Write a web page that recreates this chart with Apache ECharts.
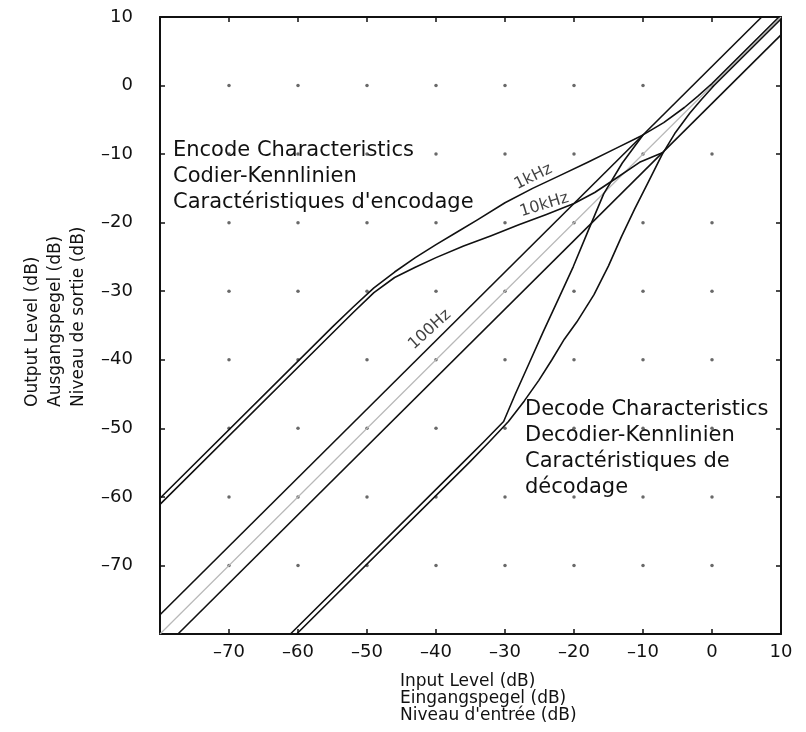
<!DOCTYPE html>
<html>
<head>
<meta charset="utf-8">
<script src="https://cdn.jsdelivr.net/npm/echarts@6/dist/echarts.min.js"></script>
<style>
	html, body { margin: 0; background: #fff; }
	#chart { width: 806px; height: 732px; }
</style>
</head>
<body>
<div id="chart"></div>
<script>
const axisTicks = [-80, -70, -60, -50, -40, -30, -20, -10, 0, 10]
const tickLabels = ['', '–70', '–60', '–50', '–40', '–30', '–20', '–10', '0', '10']
const dotTicks = [-70, -60, -50, -40, -30, -20, -10, 0]

// unity line and the 100 Hz pair
const unityX = [-80, 10]
const unityY = [-80, 10]
const enc100X = [-80, 7.2]
const enc100Y = [-77.2, 10]
const dec100X = [-77.4, 10]
const dec100Y = [-80, 7.4]

// encode curves
const enc1kX = [-80, -55, -52, -49, -46, -43, -40, -37, -34, -30, -26, -22, -18, -14, -10, -7, -4, -2, 0, 9.7]
const enc1kY = [-60.2, -35.2, -32.3, -29.5, -27.2, -25.1, -23.2, -21.4, -19.6, -17.1, -15.0, -13.1, -11.2, -9.2, -7.2, -5.4, -3.2, -1.5, 0.3, 10]
const enc10kX = [-80, -55, -52, -49, -46, -43, -40, -36, -32, -28, -24, -20, -17, -14, -10.5, -7.2]
const enc10kY = [-61.1, -36.1, -33.1, -30.2, -28.0, -26.5, -25.1, -23.4, -21.9, -20.3, -18.8, -17.2, -15.6, -13.6, -11.2, -9.8]

// decode curves
const dec1kX = [-60.2, -35.2, -32.3, -29.5, -27.2, -25.1, -23.2, -21.4, -19.6, -17.1, -15.0, -13.1, -11.2, -9.2, -7.2, -5.4, -3.2, -1.5, 0.3, 10]
const dec1kY = [-80, -55, -52, -49, -46, -43, -40, -37, -34.5, -30.5, -26.3, -22, -18, -14, -10, -7, -4, -2, 0, 9.7]
const dec10kX = [-61.1, -36.1, -33.1, -30.2, -28.5, -26.5, -24.5, -22.2, -20.1, -18, -15.7, -13, -10]
const dec10kY = [-80, -55, -52, -49, -45, -40.5, -36, -31, -26.4, -21.3, -15.8, -11.3, -7.2]

const curveNames = ['1kHz', '10kHz', '100Hz']
const curveNameX = [-25.9, -24.3, -40.9]
const curveNameY = [-13.3, -17.4, -35.6]
const curveNameAngle = [26, 17, 42]

const FONT = 'DejaVu Sans'
const INK = '#111'

const chart = echarts.init(document.getElementById('chart'))

function tickLabel(v) {
	const i = axisTicks.indexOf(v)
	return i < 0 ? '' : tickLabels[i]
}

function curve(xs, ys, extra) {
	return Object.assign({
		type: 'line',
		data: xs.map((x, i) => [x, ys[i]]),
		showSymbol: false,
		smooth: false,
		silent: true,
		lineStyle: { color: INK, width: 1.6, join: 'round' },
		z: 3,
	}, extra || {})
}

const baseAxis = {
	type: 'value',
	min: -80,
	max: 10,
	interval: 10,
	axisLine: { show: true, onZero: false, lineStyle: { color: INK, width: 2 } },
	axisTick: { show: true, inside: true, length: 5, lineStyle: { color: INK, width: 1.5 } },
	splitLine: { show: false },
}

const dots = []
dotTicks.forEach(x => dotTicks.forEach(y => dots.push([x, y])))

const option = {
	animation: false,
	backgroundColor: '#fff',
	grid: { left: 160, right: 25, top: 17, bottom: 98 },
	xAxis: [
		Object.assign({}, baseAxis, {
			position: 'bottom',
			axisLabel: { formatter: tickLabel, margin: 9, fontFamily: FONT, fontSize: 18, color: INK },
		}),
		Object.assign({}, baseAxis, { position: 'top', axisLabel: { show: false } }),
	],
	yAxis: [
		Object.assign({}, baseAxis, {
			position: 'left',
			axisLabel: { formatter: tickLabel, margin: 27, fontFamily: FONT, fontSize: 18, color: INK },
		}),
		Object.assign({}, baseAxis, { position: 'right', axisLabel: { show: false } }),
	],
	series: [
		{
			type: 'scatter',
			data: dots,
			symbolSize: 3.5,
			silent: true,
			itemStyle: { color: '#444' },
			z: 1,
		},
		curve(unityX, unityY, { lineStyle: { color: '#b8b8b8', width: 1.2 }, z: 2 }),
		curve(enc100X, enc100Y),
		curve(dec100X, dec100Y),
		curve(enc1kX, enc1kY),
		curve(enc10kX, enc10kY),
		curve(dec1kX, dec1kY),
		curve(dec10kX, dec10kY),
		{
			type: 'scatter',
			symbolSize: 0,
			silent: true,
			data: curveNames.map((n, i) => ({
				name: n,
				value: [curveNameX[i], curveNameY[i]],
				label: { rotate: curveNameAngle[i] },
			})),
			label: {
				show: true,
				position: 'inside',
				formatter: '{b}',
				fontFamily: FONT,
				fontSize: 16,
				color: INK,
			},
			z: 4,
		},
	],
	graphic: [
		{
			type: 'text',
			x: 173,
			y: 138,
			style: {
				text: 'Encode Characteristics\nCodier-Kennlinien\nCaractéristiques d\'encodage',
				font: '21px "DejaVu Sans"',
				lineHeight: 26,
				fill: INK,
				verticalAlign: 'top',
			},
		},
		{
			type: 'text',
			x: 525,
			y: 397,
			style: {
				text: 'Decode Characteristics\nDecodier-Kennlinien\nCaractéristiques de\ndécodage',
				font: '21px "DejaVu Sans"',
				lineHeight: 26,
				fill: INK,
				verticalAlign: 'top',
			},
		},
		{
			type: 'text',
			x: 400,
			y: 673,
			style: {
				text: 'Input Level (dB)\nEingangspegel (dB)\nNiveau d\'entrée (dB)',
				font: '17px "DejaVu Sans"',
				lineHeight: 17,
				fill: INK,
				verticalAlign: 'top',
			},
		},
		{
			type: 'text',
			x: 21,
			y: 407,
			rotation: Math.PI / 2,
			style: {
				text: 'Output Level (dB)\nAusgangspegel (dB)\nNiveau de sortie (dB)',
				font: '17px "DejaVu Sans"',
				lineHeight: 23,
				fill: INK,
				align: 'left',
				verticalAlign: 'top',
			},
		},
	],
}

chart.setOption(option)
</script>
</body>
</html>
